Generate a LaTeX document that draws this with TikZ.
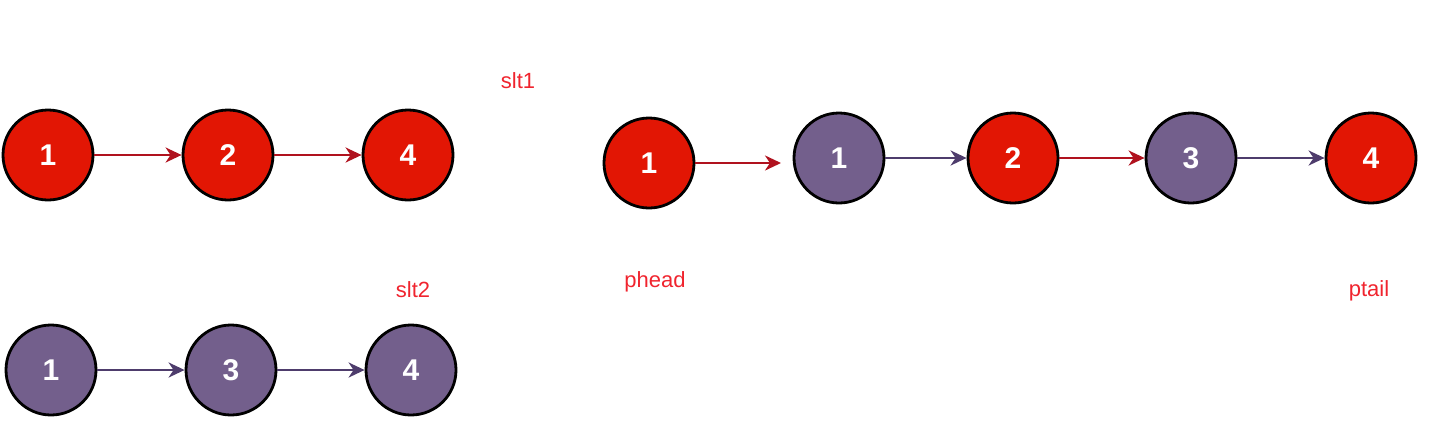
\documentclass[tikz,border=0pt]{standalone}
\usepackage{fontspec}
\setmainfont{Liberation Sans}
\usetikzlibrary{arrows.meta}
\definecolor{nred}{RGB}{226,22,4}
\definecolor{npur}{RGB}{115,95,140}
\definecolor{ared}{RGB}{176,18,30}
\definecolor{apur}{RGB}{78,60,108}
\definecolor{lred}{RGB}{240,36,46}
\tikzset{
  rnode/.style={circle, draw=black, line width=2.8pt, fill=nred, minimum size=90pt, inner sep=0pt, text=white, font=\fontsize{30}{30}\selectfont\bfseries},
  pnode/.style={circle, draw=black, line width=2.8pt, fill=npur, minimum size=90pt, inner sep=0pt, text=white, font=\fontsize{30}{30}\selectfont\bfseries},
  rarr/.style={draw=ared, line width=2.6pt, -{Stealth[length=16pt,width=15pt,inset=5pt]}},
  parr/.style={draw=apur, line width=2.6pt, -{Stealth[length=16pt,width=15pt,inset=5pt]}},
  lbl/.style={text=lred, font=\fontsize{22}{22}\selectfont, inner sep=0pt}
}
\begin{document}
\begin{tikzpicture}[x=1pt,y=-1pt]
\useasboundingbox (0,0) rectangle (1431,432);
% top-left row
\node[rnode] (a1) at (48,155) {1};
\node[rnode] (a2) at (228,155) {2};
\node[rnode] (a4) at (408,155) {4};
\draw[rarr] (a1) -- (a2);
\draw[rarr] (a2) -- (a4);
% bottom-left row
\node[pnode] (b1) at (51,370) {1};
\node[pnode] (b3) at (231,370) {3};
\node[pnode] (b4) at (411,370) {4};
\draw[parr] (b1) -- (b3);
\draw[parr] (b3) -- (b4);
% right row
\node[rnode] (c1) at (649,163) {1};
\node[pnode] (c2) at (839,158) {1};
\node[rnode] (c3) at (1013,158) {2};
\node[pnode] (c4) at (1191,158) {3};
\node[rnode] (c5) at (1371,158) {4};
\coordinate (c2in) at (781,163);
\draw[rarr] (c1) -- (c2in);
\draw[parr] (c2) -- (c3);
\draw[rarr] (c3) -- (c4);
\draw[parr] (c4) -- (c5);
% labels
\node[lbl] (l1) at (518,81) {slt1};
\node[lbl] (l2) at (413,290) {slt2};
\node[lbl] (l3) at (655,282) {phead};
\node[lbl] (l4) at (1369,291) {ptail};
\end{tikzpicture}
\end{document}
